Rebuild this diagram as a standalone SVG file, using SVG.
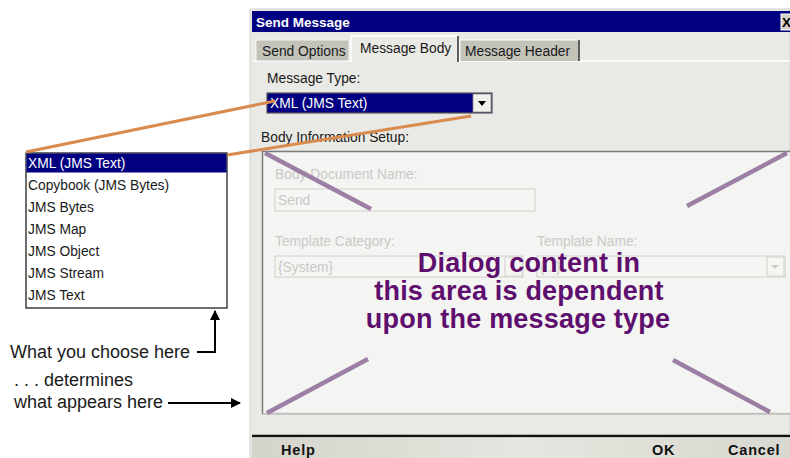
<svg xmlns="http://www.w3.org/2000/svg" width="790" height="458" viewBox="0 0 790 458">
<defs>
<style>
.ui{font-family:"Liberation Sans",Arial,sans-serif;font-size:13.8px;fill:#1a1a1a}
.uib{font-family:"Liberation Sans",Arial,sans-serif;font-size:13.5px;font-weight:bold}
.dis{font-family:"Liberation Sans",Arial,sans-serif;font-size:13.8px;fill:#c9c9c6}
.dbox{fill:#f5f5f3;stroke:#d6d6d2;stroke-width:1.2}
.note{font-family:"Liberation Sans",Arial,sans-serif;font-size:18px;fill:#1a1a1a}
.big{font-family:"Liberation Sans",Arial,sans-serif;font-size:27px;font-weight:bold;fill:#5e0f6e;letter-spacing:0.2px}
.btn{font-family:"Liberation Sans",Arial,sans-serif;font-size:14.5px;font-weight:bold;fill:#111;letter-spacing:0.8px}
.pl{stroke:#9b7fa5;stroke-width:4.5;stroke-linecap:butt}
.ol{stroke:#d98b4e;stroke-width:3}
.ar{stroke:#000;stroke-width:2;fill:none}
</style>
<marker id="ah" viewBox="0 0 10 10" refX="9" refY="5" markerWidth="5" markerHeight="5" orient="auto-start-reverse" markerUnits="strokeWidth">
<path d="M0,0 L10,5 L0,10 z" fill="#000"/>
</marker>
<linearGradient id="bar" x1="0" y1="0" x2="1" y2="0">
<stop offset="0" stop-color="#d4d4cc"/><stop offset="0.5" stop-color="#e6e6e0"/><stop offset="1" stop-color="#d8d8d0"/>
</linearGradient>
</defs>
<rect width="790" height="458" fill="#fff"/>

<g id="dialog">
<rect x="250" y="9" width="540" height="449" fill="#e9e9e5" stroke="#d2d2ce" stroke-width="1"/>
<rect x="252" y="11" width="538" height="21" fill="#000080"/>
<text class="uib" x="256" y="27" fill="#fff">Send Message</text>
<rect x="781" y="14" width="12" height="16" fill="#d4d0c8" stroke="#fff" stroke-width="1"/>
<text class="uib" x="782" y="27" fill="#000">X</text>
</g>

<g id="tabs">
<line x1="253" y1="61" x2="790" y2="61" stroke="#fff" stroke-width="1.5"/>
<rect x="256" y="40" width="93" height="21" fill="#c3c3ba" stroke="#f6f6f4" stroke-width="1"/>
<text class="ui" x="262" y="56">Send Options</text>
<rect x="351" y="36" width="107" height="26" fill="#e9e9e5"/>
<line x1="351" y1="62" x2="351" y2="36" stroke="#fff" stroke-width="1.5"/>
<line x1="351" y1="36" x2="458" y2="36" stroke="#fff" stroke-width="1.5"/>
<line x1="458" y1="36" x2="458" y2="62" stroke="#333" stroke-width="1.5"/>
<text class="ui" x="360" y="53">Message Body</text>
<rect x="460" y="40" width="119" height="21" fill="#c3c3ba"/>
<line x1="460" y1="61" x2="460" y2="40" stroke="#fff" stroke-width="1"/>
<line x1="460" y1="40" x2="579" y2="40" stroke="#fff" stroke-width="1"/>
<line x1="579" y1="40" x2="579" y2="61" stroke="#333" stroke-width="1.5"/>
<text class="ui" x="465" y="56">Message Header</text>
</g>

<g id="message-type">
<text class="ui" x="267" y="83">Message Type:</text>
<rect x="267" y="93" width="225" height="20" fill="#000080" stroke="#555" stroke-width="1.2"/>
<text class="ui" x="270" y="108" style="fill:#fff">XML (JMS Text)</text>
<rect x="473" y="94" width="18" height="18" fill="#f0f0ec" stroke="#888" stroke-width="0.8"/>
<path d="M478,101 L486,101 L482,106 z" fill="#000"/>
</g>

<g id="body-setup">
<text class="ui" x="261" y="142">Body Information Setup:</text>
<rect x="262.5" y="151.5" width="530" height="262" fill="#f4f4f2" stroke="#7a7a78" stroke-width="1.5"/>
<line x1="263" y1="413" x2="790" y2="413" stroke="#fff" stroke-width="1"/>
<text class="dis" x="275" y="179">Body Document Name:</text>
<rect class="dbox" x="275" y="189" width="260" height="22"/>
<text class="dis" x="278" y="205">Send</text>
<text class="dis" x="275" y="246">Template Category:</text>
<rect class="dbox" x="275" y="256" width="248" height="21"/>
<text class="dis" x="278" y="272">{System}</text>
<rect class="dbox" x="505" y="257" width="17" height="19"/>
<text class="dis" x="537" y="246">Template Name:</text>
<rect class="dbox" x="537" y="256" width="248" height="21"/>
<text class="dis" x="540" y="272">{...}</text>
<rect class="dbox" x="767" y="257" width="17" height="19"/>
<path d="M771,265 L779,265 L775,269 z" fill="#c9c9c6"/>
</g>

<g id="footer">
<line x1="252" y1="436" x2="790" y2="436" stroke="#111" stroke-width="2.5"/>
<rect x="252" y="437.5" width="538" height="20.5" fill="url(#bar)"/>
<text class="btn" x="281" y="455">Help</text>
<text class="btn" x="652" y="455">OK</text>
<text class="btn" x="728" y="455">Cancel</text>
</g>

<g id="overlay-lines">
<line class="pl" x1="265" y1="153" x2="371" y2="209"/>
<line class="pl" x1="787" y1="153" x2="687" y2="206"/>
<line class="pl" x1="267" y1="413" x2="368" y2="359"/>
<line class="pl" x1="673" y1="360" x2="770" y2="412"/>
</g>

<g id="overlay-text">
<text class="big" x="529" y="272" text-anchor="middle">Dialog content in</text>
<text class="big" x="519" y="300" text-anchor="middle">this area is dependent</text>
<text class="big" x="518" y="328" text-anchor="middle">upon the message type</text>
</g>

<g id="type-list">
<rect x="26" y="153" width="201" height="155" fill="#fff" stroke="#222" stroke-width="1.3"/>
<rect x="26.5" y="153.5" width="200" height="19" fill="#000080"/>
<text class="ui" x="28" y="168" style="fill:#fff">XML (JMS Text)</text>
<text class="ui" x="28" y="190">Copybook (JMS Bytes)</text>
<text class="ui" x="28" y="212">JMS Bytes</text>
<text class="ui" x="28" y="234">JMS Map</text>
<text class="ui" x="28" y="256">JMS Object</text>
<text class="ui" x="28" y="278">JMS Stream</text>
<text class="ui" x="28" y="300">JMS Text</text>
</g>

<g id="connectors">
<line class="ol" x1="26" y1="152" x2="275" y2="101"/>
<line class="ol" x1="227" y1="155" x2="471" y2="116"/>
<polyline class="ar" points="197,352 215,352 215,311" marker-end="url(#ah)"/>
<line class="ar" x1="168" y1="403" x2="240" y2="403" marker-end="url(#ah)"/>
</g>

<g id="notes">
<text class="note" x="10" y="358">What you choose here</text>
<text class="note" x="14" y="386">. . . determines</text>
<text class="note" x="14" y="408">what appears here</text>
</g>
</svg>
